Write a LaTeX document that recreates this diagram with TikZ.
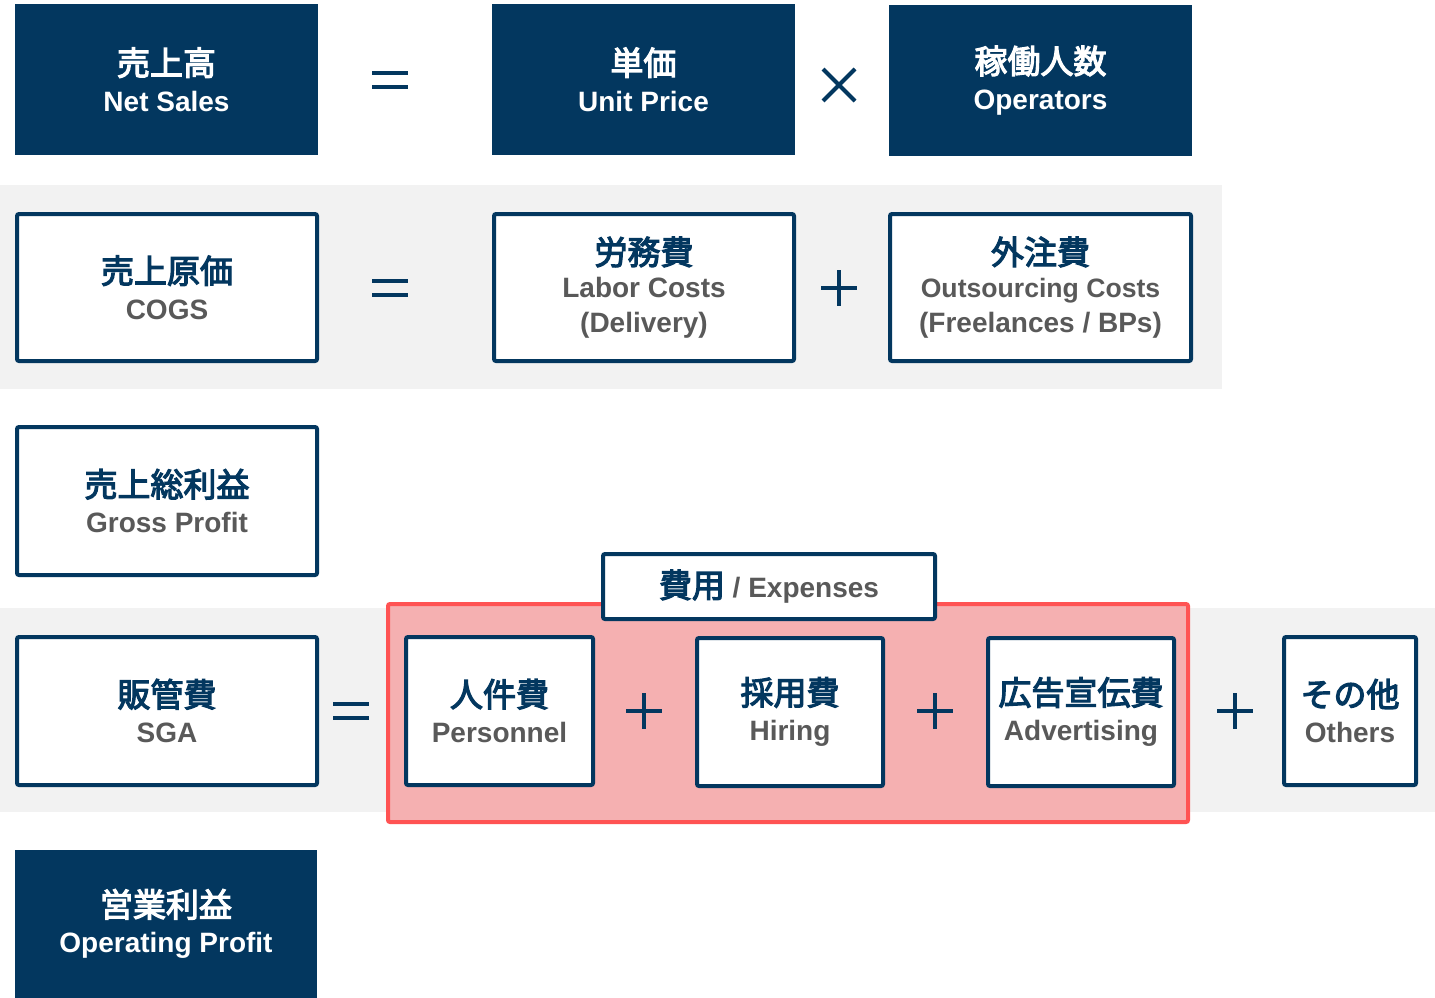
\documentclass[tikz,border=0pt]{standalone}
\usepackage{fontspec}
\setmainfont{Liberation Sans}
\newfontfamily\jp{Noto Sans CJK JP}[FakeBold=3.5]
\definecolor{navy}{HTML}{03375F}
\definecolor{txtgrey}{HTML}{595959}
\definecolor{band}{HTML}{F2F2F2}
\definecolor{redfill}{HTML}{F5B0B1}
\definecolor{redline}{HTML}{FF5353}
\newcommand{\jl}[1]{{\jp\fontsize{16.5}{18}\selectfont #1}}
\newcommand{\el}[1]{{\bfseries\fontsize{14}{18}\selectfont #1}}
\tikzset{
  fbox/.style={fill=navy, draw=none, text=white, align=center, inner sep=0pt, font=\fontsize{14}{18}\selectfont},
  wbox/.style={fill=white, draw=navy, line width=2pt, rounded corners=1pt, align=center, inner sep=0pt, text=txtgrey, font=\fontsize{14}{18}\selectfont},
  sym/.style={navy, line width=2pt},
}
\begin{document}
\begin{tikzpicture}[x=0.5pt,y=-0.5pt]
\useasboundingbox (0,0) rectangle (1435,997);
% bands
\fill[band] (0,185) rectangle (1222,389);
\fill[band] (0,608) rectangle (1435,812);
% row 1
\node[fbox, minimum width=151.5pt, minimum height=75.5pt] (ns) at (166.5,79.5) {\jl{売上高}\\\el{Net Sales}};
\node[fbox, minimum width=151.5pt, minimum height=75.5pt] (up) at (643.5,79.5) {\jl{単価}\\\el{Unit Price}};
\node[fbox, minimum width=151.5pt, minimum height=75.5pt] (op) at (1040.5,80.5) {\jl{稼働人数}\\\el{Operators}};
\draw[sym] (372,73) -- (408,73) (372,87) -- (408,87);
\draw[sym] (823,69) -- (855,101) (855,69) -- (823,101);
% row 2
\node[wbox, minimum width=150pt, minimum height=73.5pt] (cogs) at (167,287.5) {\jl{\textcolor{navy}{売上原価}}\\\el{COGS}};
\node[wbox, minimum width=150pt, minimum height=73.5pt] (labor) at (644,287.5) {\raisebox{-1pt}{\jl{\textcolor{navy}{労務費}}}\\[-0.5pt]\el{Labor Costs}\\[-0.5pt]\el{(Delivery)}};
\node[wbox, minimum width=150.5pt, minimum height=73.5pt] (out) at (1040.5,287.5) {\raisebox{-1pt}{\jl{\textcolor{navy}{外注費}}}\\[-0.5pt]{\bfseries\fontsize{13.3}{18}\selectfont Outsourcing Costs}\\[-0.5pt]\el{(Freelances / BPs)}};
\draw[sym] (372,281) -- (408,281) (372,295) -- (408,295);
\draw[sym] (821,288) -- (857,288) (839,270) -- (839,306);
% row 3
\node[wbox, minimum width=150pt, minimum height=74pt] (gp) at (167,501) {\jl{\textcolor{navy}{売上総利益}}\\\el{Gross Profit}};
% row 4
\draw[fill=redfill, draw=redline, line width=2pt, rounded corners=1pt] (388,604) rectangle (1188,822);
\node[wbox, minimum width=166pt, minimum height=32.5pt] (exp) at (769,586.5) {\raisebox{-1.5pt}{\jl{\textcolor{navy}{費用}}\el{ / Expenses}}};
\node[wbox, minimum width=150pt, minimum height=74pt] (sga) at (167,711) {\jl{\textcolor{navy}{販管費}}\\\el{SGA}};
\node[wbox, minimum width=93.5pt, minimum height=74pt] (pers) at (499.5,711) {\jl{\textcolor{navy}{人件費}}\\\el{Personnel}};
\node[wbox, minimum width=93pt, minimum height=74pt] (hire) at (790,712) {\jl{\textcolor{navy}{採用費}}\\\el{Hiring}};
\node[wbox, minimum width=93pt, minimum height=74pt] (adv) at (1081,712) {\jl{\textcolor{navy}{広告宣伝費}}\\\el{Advertising}};
\node[wbox, minimum width=66pt, minimum height=74pt] (oth) at (1350,711) {\jl{\textcolor{navy}{その他}}\\\el{Others}};
\draw[sym] (333,704) -- (369,704) (333,718) -- (369,718);
\draw[sym] (626,711) -- (662,711) (644,693) -- (644,729);
\draw[sym] (917,711) -- (953,711) (935,693) -- (935,729);
\draw[sym] (1217,711) -- (1253,711) (1235,693) -- (1235,729);
% row 5
\node[fbox, minimum width=151pt, minimum height=74pt] (opp) at (166,924) {\jl{営業利益}\\\el{Operating Profit}};
\end{tikzpicture}
\end{document}
